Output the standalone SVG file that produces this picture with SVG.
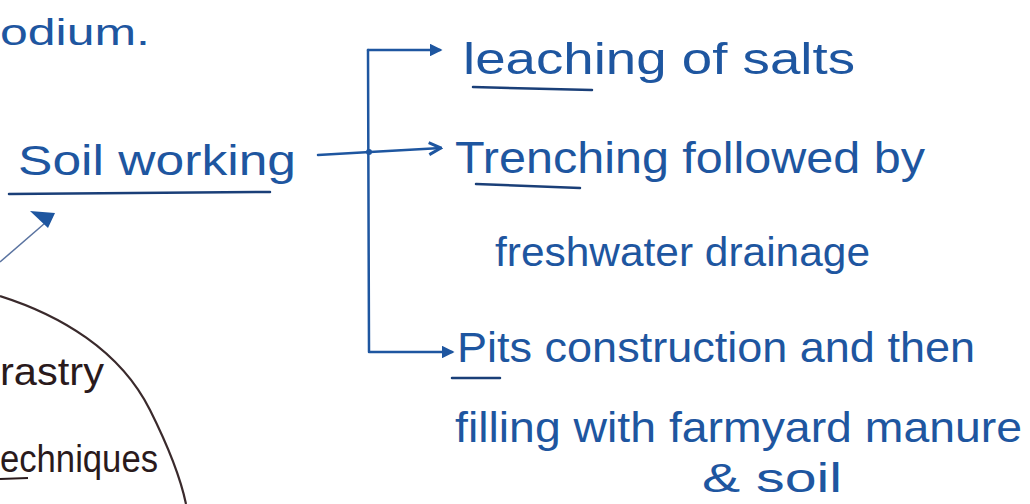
<svg xmlns="http://www.w3.org/2000/svg" width="1030" height="504" viewBox="0 0 1030 504">
  <style>
    .ink { font-family: "Liberation Sans", "DejaVu Sans", sans-serif; fill: #1e56a0; }
    .dark { font-family: "Liberation Sans", "DejaVu Sans", sans-serif; fill: #2a1a1c; }
    .line { fill: none; stroke: #1e56a0; stroke-width: 2.5; stroke-linecap: round; }
    .under { fill: none; stroke: #1a3f78; stroke-width: 2.5; stroke-linecap: round; }
  </style>
  <defs>
    <marker id="head" viewBox="0 0 10 10" refX="8" refY="5" markerWidth="5" markerHeight="5" orient="auto">
      <path d="M0,0 L10,5 L0,10 Z" fill="#1e56a0"/>
    </marker>
    <marker id="open" viewBox="0 0 10 10" refX="9" refY="5" markerWidth="6" markerHeight="6" orient="auto">
      <path d="M1,1 L9,5 L1,9" fill="none" stroke="#1e56a0" stroke-width="2"/>
    </marker>
  </defs>
  <rect width="1030" height="504" fill="#ffffff"/>

  <!-- fragment of the previous line -->
  <g id="prev-line">
    <text class="ink" x="0" y="45" font-size="36" textLength="150" lengthAdjust="spacingAndGlyphs">odium.</text>
  </g>

  <!-- main topic -->
  <g id="soil-working">
    <text class="ink" x="18" y="175" font-size="42" textLength="278" lengthAdjust="spacingAndGlyphs">Soil working</text>
    <path class="under" d="M9,194 L270,192"/>
  </g>

  <!-- branches -->
  <g id="connectors">
    <path class="line" d="M318,155 L370,152"/>
    <path class="line" d="M368,50 L369,352"/>
    <path class="line" d="M368,50 L440,50" marker-end="url(#head)"/>
    <path class="line" d="M370,152 L441,148" marker-end="url(#open)"/>
    <path class="line" d="M370,352 L452,352" marker-end="url(#head)"/>
    <circle cx="369" cy="152" r="3" fill="#1e56a0"/>
    <!-- pointer from the circled note below -->
    <path d="M0,262 L52,217" fill="none" stroke="#5a73a0" stroke-width="1.5"/>
    <path d="M30,211 L55,213 L48,228 Z" fill="#1e56a0"/>
  </g>

  <g id="leaching">
    <text class="ink" x="463" y="74" font-size="44" textLength="392" lengthAdjust="spacingAndGlyphs">leaching of salts</text>
    <path class="under" d="M473,87 L592,90"/>
  </g>

  <g id="trenching">
    <text class="ink" x="455" y="173" font-size="44" textLength="470" lengthAdjust="spacingAndGlyphs">Trenching followed by</text>
    <path class="under" d="M476,184 L580,188"/>
    <text class="ink" x="495" y="266" font-size="40" textLength="375" lengthAdjust="spacingAndGlyphs">freshwater drainage</text>
  </g>

  <g id="pits">
    <text class="ink" x="457" y="362" font-size="42" textLength="518" lengthAdjust="spacingAndGlyphs">Pits construction and then</text>
    <path class="under" d="M452,378 L500,378"/>
    <text class="ink" x="455" y="442" font-size="42" textLength="567" lengthAdjust="spacingAndGlyphs">filling with farmyard manure</text>
    <text class="ink" x="702" y="492" font-size="40" textLength="140" lengthAdjust="spacingAndGlyphs">&amp; soil</text>
  </g>

  <!-- circled note at the lower left -->
  <g id="circle-note">
    <path d="M0,296 C60,315 120,350 150,410 C165,440 180,475 186,504" fill="none" stroke="#3a2a2c" stroke-width="2.2"/>
    <text class="dark" x="0" y="385" font-size="38" textLength="104" lengthAdjust="spacingAndGlyphs">rastry</text>
    <text class="dark" x="0" y="472" font-size="38" textLength="158" lengthAdjust="spacingAndGlyphs">echniques</text>
    <path d="M0,479 L28,478" fill="none" stroke="#2a1a1c" stroke-width="2"/>
  </g>
</svg>
